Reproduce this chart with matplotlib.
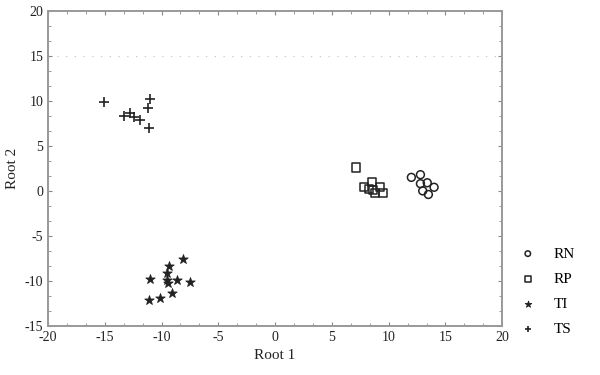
import numpy as np
import matplotlib
matplotlib.use('Agg')
import matplotlib.pyplot as plt
from matplotlib.ticker import MultipleLocator, AutoMinorLocator

plt.rcParams['font.family'] = ['Liberation Serif', 'DejaVu Serif']
plt.rcParams['axes.unicode_minus'] = False

# ---- data ----
rn_x = [12.0, 12.8, 12.8, 13.4, 14.0, 13.0, 13.5]
rn_y = [1.5, 1.8, 0.8, 0.9, 0.4, 0.0, -0.4]

rp_x = [7.1, 7.8, 8.5, 8.3, 8.6, 9.2, 9.5, 8.8]
rp_y = [2.6, 0.4, 1.0, 0.2, 0.1, 0.4, -0.2, -0.2]

ti_x = [-8.1, -9.3, -9.5, -9.5, -9.4, -11.0, -8.6, -7.5, -9.1, -10.1, -11.1]
ti_y = [-7.6, -8.4, -9.1, -9.9, -10.2, -9.8, -9.9, -10.1, -11.3, -11.9, -12.1]

ts_x = [-15.1, -13.3, -12.8, -12.4, -11.9, -11.0, -11.2, -11.1]
ts_y = [9.9, 8.3, 8.7, 8.2, 7.9, 10.2, 9.2, 7.0]

groups = ['RN', 'RP', 'TI', 'TS']

fig = plt.figure(figsize=(6, 3.75), dpi=100)
ax = fig.add_axes([0.08, 0.131, 0.757, 0.84])

ax.axhline(15, color='#c8c8c8', lw=0.9, ls=(0, (1, 6)), zorder=0)

ax.scatter(rn_x, rn_y, marker='o', s=32, facecolors='none', edgecolors='#222222', linewidths=1.1, label=groups[0])
ax.scatter(rp_x, rp_y, marker='s', s=34, facecolors='none', edgecolors='#222222', linewidths=1.1, label=groups[1])
ax.scatter(ti_x, ti_y, marker='*', s=50, color='#222222', linewidths=0.6, label=groups[2])
ax.scatter(ts_x, ts_y, marker='+', s=50, color='#222222', linewidths=1.2, label=groups[3])

ax.set_xlim(-20, 20)
ax.set_ylim(-15, 20)
ax.xaxis.set_major_locator(MultipleLocator(5))
ax.yaxis.set_major_locator(MultipleLocator(5))
ax.xaxis.set_minor_locator(AutoMinorLocator(3))
ax.yaxis.set_minor_locator(AutoMinorLocator(3))
ax.tick_params(which='both', direction='in', colors='#888888', labelcolor='#222222',
               labelsize=10, top=True, right=True)
ax.tick_params(which='major', length=3)
ax.tick_params(which='minor', length=2)
for s in ax.spines.values():
    s.set_color('#999999')
    s.set_linewidth(1.4)

ax.set_xlabel('Root 1', fontsize=11, color='#222222')
ax.set_ylabel('Root 2', fontsize=11, color='#222222')

ax.legend(loc='upper left', bbox_to_anchor=(1.016, 0.27), frameon=False,
          fontsize=11, markerscale=0.7, handlelength=1.6, handletextpad=0.9,
          labelspacing=0.75, borderaxespad=0)

fig.savefig('out.png', dpi=100)
